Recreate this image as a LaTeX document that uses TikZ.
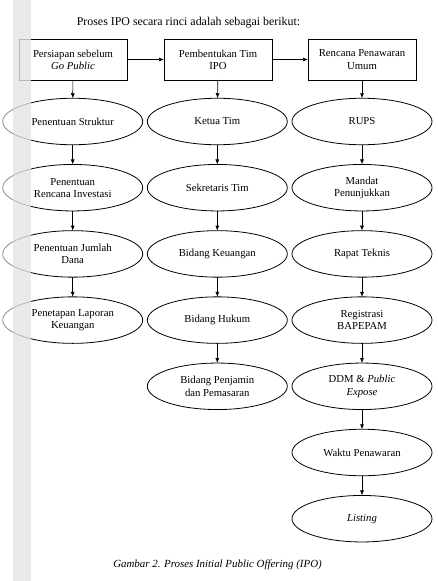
\documentclass[tikz,border=0pt]{standalone}
\usepackage{fontspec}
\setmainfont{Liberation Serif}
\usetikzlibrary{arrows.meta,shapes.geometric}

\begin{document}
\begin{tikzpicture}[x=1pt,y=-1pt,
  tahap/.style={draw,line width=0.8pt,minimum width=108pt,minimum height=41pt,
    inner sep=0pt,outer sep=0pt,align=center,font=\fontsize{10.7}{12.3}\selectfont},
  oval/.style={ellipse,draw,line width=0.8pt,minimum width=140pt,minimum height=46.5pt,
    inner sep=0pt,outer sep=0pt,align=center,font=\fontsize{10.7}{12.3}\selectfont},
  panah/.style={line width=0.7pt,-{Latex[length=5pt,width=4pt]}}]
\useasboundingbox (0,0) rectangle (438,581);

\node (judul) at (188.5,23) {\fontsize{11.9}{13}\selectfont Proses IPO secara rinci adalah sebagai berikut:};

% tiga tahap utama
\node[tahap] (persiapan) at (73,59.5) {Persiapan sebelum\\\textit{Go Public}};
\node[tahap] (tim) at (218,59.5) {Pembentukan Tim\\IPO};
\node[tahap] (rencana) at (362,59.5) {Rencana Penawaran\\Umum};
\draw[panah] (persiapan) -- (tim);
\draw[panah] (tim) -- (rencana);

% kolom persiapan
\foreach \n/\t in {1/Penentuan Struktur, 2/{Penentuan\\Rencana Investasi},
    3/{Penentuan Jumlah\\Dana}, 4/{Penetapan Laporan\\Keuangan}}
  \node[oval] (p\n) at (72.7,{121.5+66.2*(\n-1)}) {\t};
% kolom tim
\foreach \n/\t in {1/Ketua Tim, 2/Sekretaris Tim, 3/Bidang Keuangan,
    4/Bidang Hukum, 5/{Bidang Penjamin\\dan Pemasaran}}
  \node[oval] (t\n) at (217.3,{121.5+66.2*(\n-1)}) {\t};
% kolom penawaran umum
\foreach \n/\t in {1/RUPS, 2/{Mandat\\Penunjukkan}, 3/Rapat Teknis,
    4/{Registrasi\\BAPEPAM}, 5/{DDM \& \textit{Public}\\\textit{Expose}},
    6/Waktu Penawaran, 7/\textit{Listing}}
  \node[oval] (r\n) at (362,{121.5+66.2*(\n-1)}) {\t};

\draw[panah] (persiapan) -- (p1);
\draw[panah] (tim) -- (t1);
\draw[panah] (rencana) -- (r1);
\foreach \a/\b in {1/2,2/3,3/4}
  \draw[panah] (p\a) -- (p\b);
\foreach \a/\b in {1/2,2/3,3/4,4/5}
  \draw[panah] (t\a) -- (t\b);
\foreach \a/\b in {1/2,2/3,3/4,4/5,5/6,6/7}
  \draw[panah] (r\a) -- (r\b);

\node (keterangan) at (217.5,565) {\fontsize{10.9}{12}\selectfont\textit{Gambar 2. Proses Initial Public Offering (IPO)}};

% tepi kiri halaman
\fill[white,opacity=0.55] (0,0) rectangle (13,581);
\fill[black!10,opacity=0.8] (13,0) rectangle (31,581);
\end{tikzpicture}
\end{document}
